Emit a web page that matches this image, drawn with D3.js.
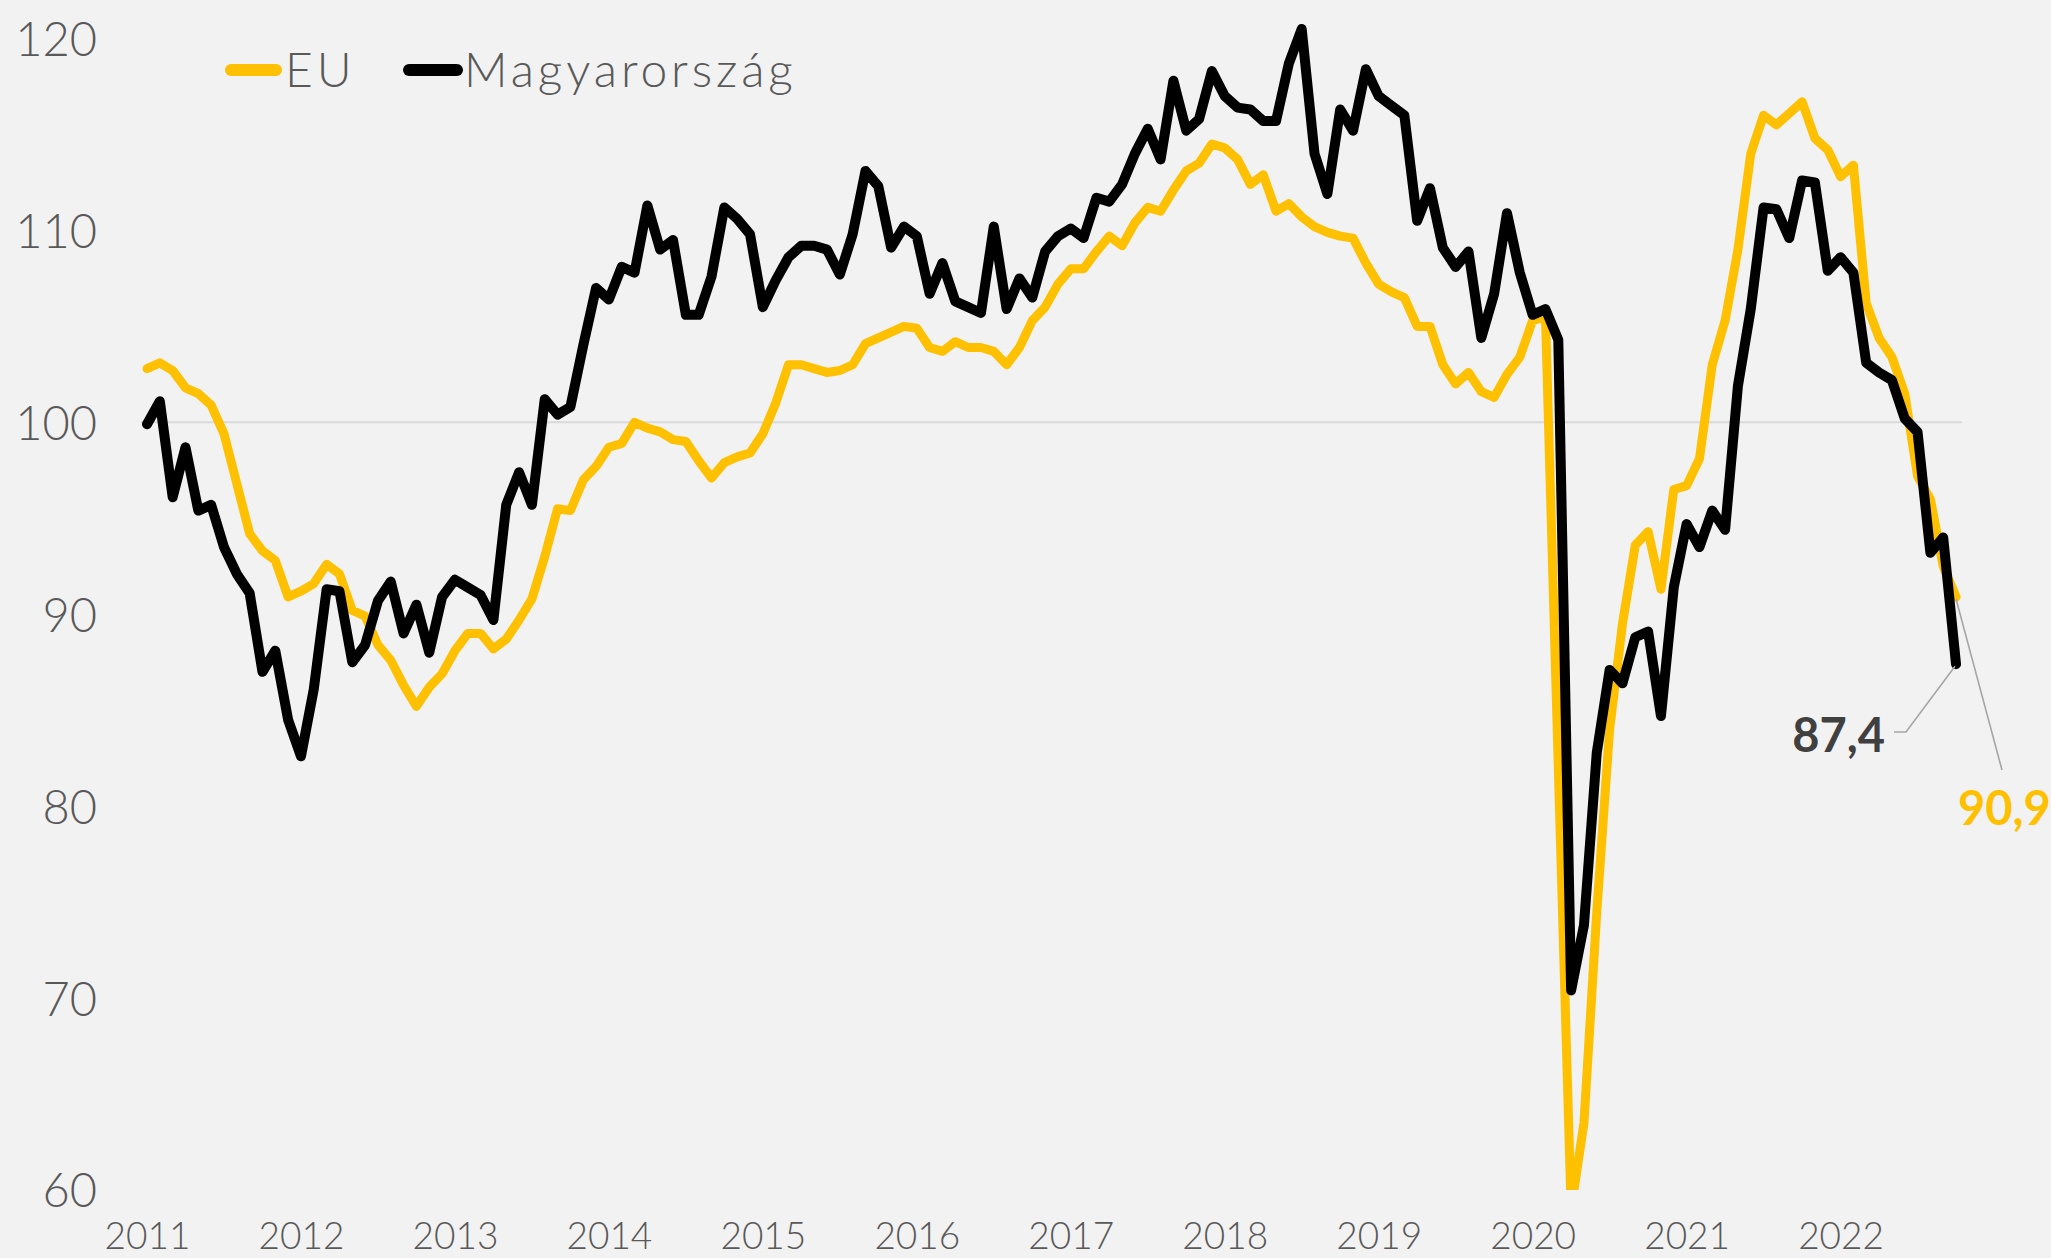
<!DOCTYPE html>
<html>
<head>
<meta charset="utf-8">
<script src="https://cdn.jsdelivr.net/npm/d3@7"></script>
<style>
  html, body { margin: 0; padding: 0; background: #F2F2F2; }
  svg { display: block; }
  text { font-family: Lato, "Noto Sans", sans-serif; }
</style>
</head>
<body>
<svg id="chart" width="2051" height="1258"></svg>
<script>
// ---- Data (monthly, Jan 2011 – Oct 2022) ----
const startYear = 2011;
const yearLabels = ["2011","2012","2013","2014","2015","2016","2017","2018","2019","2020","2021","2022"];
const yTickValues = [60, 70, 80, 90, 100, 110, 120];
const seriesNames = ["EU", "Magyarország"];

const euValues = [
  102.8,103.1,102.7,101.8,101.5,100.9,99.4,96.8,94.2,93.3,92.8,90.9,
  91.2,91.6,92.6,92.1,90.2,89.9,88.4,87.6,86.3,85.2,86.2,86.9,
  88.1,89.0,89.0,88.2,88.7,89.7,90.8,93.0,95.5,95.4,97.0,97.7,
  98.7,98.9,100.0,99.7,99.5,99.1,99.0,98.0,97.1,97.9,98.2,98.4,
  99.4,101.0,103.0,103.0,102.8,102.6,102.7,103.0,104.1,104.4,104.7,105.0,
  104.9,103.9,103.7,104.2,103.9,103.9,103.7,103.0,103.9,105.3,106.0,107.2,
  108.0,108.0,108.9,109.7,109.2,110.4,111.2,111.0,112.1,113.1,113.5,114.5,
  114.3,113.7,112.4,112.9,111.0,111.4,110.7,110.2,109.9,109.7,109.6,108.3,
  107.2,106.8,106.5,105.0,105.0,103.0,102.0,102.6,101.6,101.3,102.5,103.4,
  105.3,105.5,82.0,59.0,63.5,74.5,84.0,89.5,93.6,94.3,91.3,96.5,
  96.7,98.1,103.0,105.3,109.0,114.0,116.0,115.5,116.1,116.7,114.8,114.2,
  112.8,113.4,106.2,104.4,103.4,101.5,97.2,96.0,92.5,90.9
];

const huValues = [
  99.9,101.1,96.1,98.7,95.4,95.7,93.5,92.1,91.1,87.0,88.1,84.5,
  82.6,86.1,91.3,91.2,87.5,88.4,90.7,91.7,89.0,90.5,88.0,90.9,
  91.8,91.4,91.0,89.7,95.7,97.4,95.7,101.2,100.4,100.8,104.0,107.0,
  106.4,108.1,107.8,111.3,109.0,109.5,105.6,105.6,107.6,111.2,110.6,109.8,
  106.0,107.4,108.6,109.2,109.2,109.0,107.7,109.8,113.1,112.3,109.1,110.2,
  109.7,106.7,108.3,106.3,106.0,105.7,110.2,105.9,107.5,106.5,108.9,109.7,
  110.1,109.6,111.7,111.5,112.4,114.0,115.3,113.7,117.8,115.2,115.8,118.3,
  117.0,116.4,116.3,115.7,115.7,118.7,120.5,114.0,111.9,116.3,115.2,118.4,
  117.0,116.5,116.0,110.5,112.2,109.1,108.1,108.9,104.4,106.7,110.9,107.8,
  105.6,105.9,104.3,70.4,73.8,82.8,87.1,86.4,88.8,89.1,84.7,91.4,
  94.7,93.5,95.4,94.4,101.9,105.9,111.2,111.1,109.6,112.6,112.5,107.9,
  108.6,107.8,103.1,102.6,102.2,100.2,99.5,93.2,94.0,87.4
];

const lastLabels = ["90,9", "87,4"];

// ---- Drawing ----
const svg = d3.select("#chart");
const W = 2051, H = 1258;
svg.append("rect").attr("width", W).attr("height", H).attr("fill", "#F2F2F2");

const n = euValues.length;
const x = d3.scaleLinear().domain([0, n - 1]).range([147, 147 + (n - 1) * 12.83]);
const y = d3.scaleLinear().domain([60, 120]).range([1190, 38.5]);

const colors = { "EU": "#FFC000", "Magyarország": "#000000" };

// clip path (values below 60 are cut off)
svg.append("defs").append("clipPath").attr("id", "plotclip")
  .append("rect")
  .attr("x", 0).attr("y", 0)
  .attr("width", W).attr("height", y(60));

// gridline at 100
svg.append("line")
  .attr("x1", x(0) - 6).attr("x2", x(n - 1) + 6)
  .attr("y1", y(100)).attr("y2", y(100))
  .attr("stroke", "#D9D9D9").attr("stroke-width", 2);

// Y axis labels
const yAxis = d3.axisLeft(y).tickValues(yTickValues).tickSize(0).tickPadding(0).tickFormat(d3.format("d"));
const yg = svg.append("g").attr("transform", "translate(97,0)").call(yAxis);
yg.select(".domain").remove();
yg.selectAll("text")
  .attr("font-family", "Lato, 'Noto Sans', sans-serif")
  .attr("font-size", 47).attr("font-weight", 300).attr("fill", "#595959")
  .attr("dy", "0.36em");

// X axis labels
const xAxis = d3.axisBottom(x)
  .tickValues(yearLabels.map((d, i) => i * 12))
  .tickFormat((d, i) => yearLabels[i])
  .tickSize(0).tickPadding(0);
const xg = svg.append("g").attr("transform", "translate(0,1223)").call(xAxis);
xg.select(".domain").remove();
xg.selectAll("text")
  .attr("font-family", "Lato, 'Noto Sans', sans-serif")
  .attr("font-size", 37).attr("font-weight", 300).attr("fill", "#595959")
  .attr("dy", "0.71em");

// Lines
const line = d3.line().x((d, i) => x(i)).y(d => y(d));
const plot = svg.append("g").attr("clip-path", "url(#plotclip)");
plot.append("path").datum(euValues)
  .attr("d", line).attr("fill", "none")
  .attr("stroke", colors["EU"]).attr("stroke-width", 9)
  .attr("stroke-linejoin", "round").attr("stroke-linecap", "round");
plot.append("path").datum(huValues)
  .attr("d", line).attr("fill", "none")
  .attr("stroke", colors["Magyarország"]).attr("stroke-width", 10)
  .attr("stroke-linejoin", "round").attr("stroke-linecap", "round");

// Legend
const legend = [
  { name: seriesNames[0], x1: 231, x2: 276, tx: 285 },
  { name: seriesNames[1], x1: 409, x2: 457, tx: 464 }
];
legend.forEach(l => {
  svg.append("line")
    .attr("x1", l.x1).attr("x2", l.x2).attr("y1", 70).attr("y2", 70)
    .attr("stroke", colors[l.name]).attr("stroke-width", 12)
    .attr("stroke-linecap", "round");
  svg.append("text")
    .attr("x", l.tx).attr("y", 87)
    .attr("font-size", 48).attr("font-weight", 300).attr("fill", "#595959")
    .attr("letter-spacing", 3.9)
    .text(l.name);
});

// End labels with leader lines
const iLast = n - 1;
// Magyarország
svg.append("polyline")
  .attr("points", [[x(iLast) - 1, y(huValues[iLast]) + 2], [1906, 732], [1894, 732]].map(p => p.join(",")).join(" "))
  .attr("fill", "none").attr("stroke", "#A6A6A6").attr("stroke-width", 1.6);
svg.append("text")
  .attr("x", 1885).attr("y", 752)
  .attr("text-anchor", "end")
  .attr("font-size", 47).attr("font-weight", "bold").attr("fill", "#404040")
  .text(lastLabels[1]);
// EU
svg.append("line")
  .attr("x1", x(iLast)).attr("y1", y(euValues[iLast]) + 2)
  .attr("x2", 2002).attr("y2", 770)
  .attr("stroke", "#A6A6A6").attr("stroke-width", 1.6);
svg.append("text")
  .attr("x", 1958).attr("y", 825)
  .attr("font-size", 47).attr("font-weight", "bold").attr("fill", "#FFC000")
  .text(lastLabels[0]);
</script>
</body>
</html>
